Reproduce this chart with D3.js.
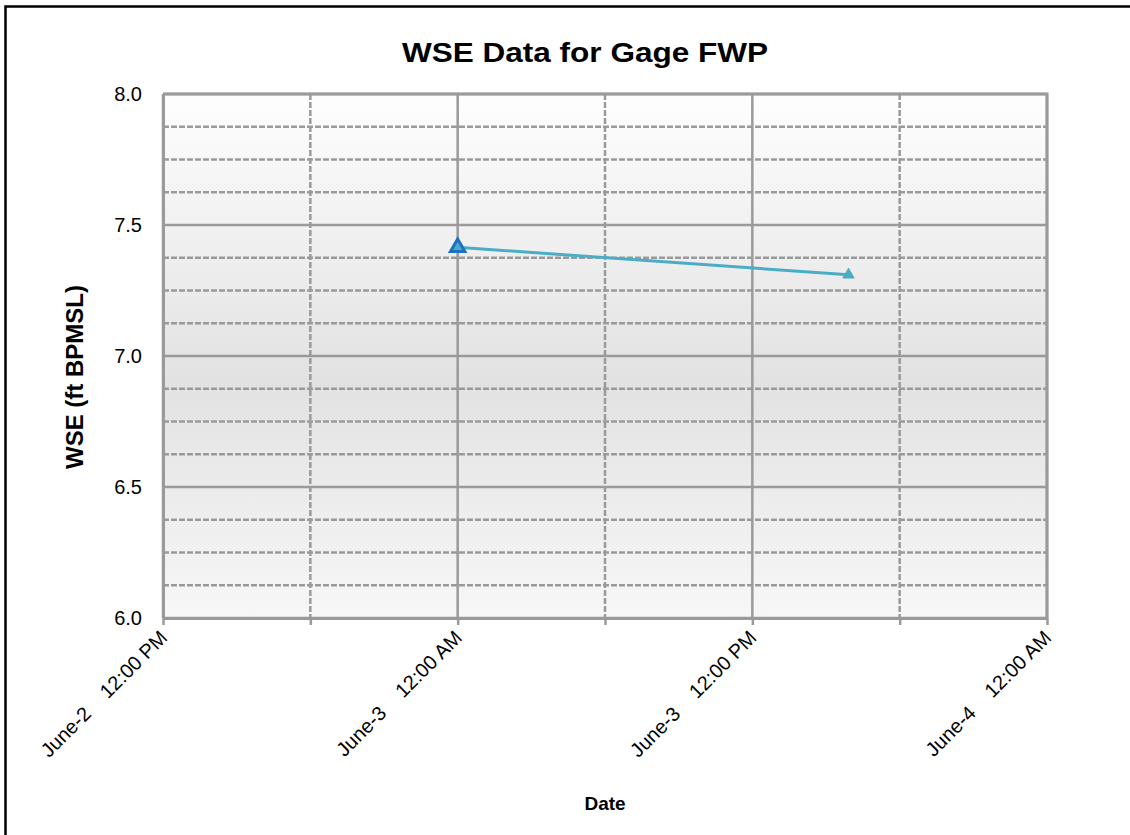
<!DOCTYPE html>
<html>
<head>
<meta charset="utf-8">
<script src="https://cdn.jsdelivr.net/npm/d3@7"></script>
<style>
  body { margin: 0; background: #fff; }
  text { font-family: "Liberation Sans", Arial, sans-serif; }
</style>
</head>
<body>
<script>
// data
const times = ["2010-06-03T00:00", "2010-06-03T15:55"];
const wse = [7.415, 7.31];
const yTicks = [6.0, 6.5, 7.0, 7.5, 8.0];
const xDomain = ["2010-06-02T12:00", "2010-06-04T00:00"];

const parse = d3.timeParse("%Y-%m-%dT%H:%M");
const data = times.map((t, i) => ({ t: parse(t), v: wse[i] }));

const W = 1130, H = 835;
const m = { left: 163, top: 94, right: 1047, bottom: 618 };

const svg = d3.select("body").append("svg").attr("width", W).attr("height", H);

// outer border
svg.append("rect").attr("x", 5.5).attr("y", 6.5).attr("width", W).attr("height", H)
  .attr("fill", "#fff").attr("stroke", "#000").attr("stroke-width", 2.5);

const grad = svg.append("defs").append("linearGradient").attr("id", "bg")
  .attr("x1", 0).attr("y1", 0).attr("x2", 0).attr("y2", 1);
grad.append("stop").attr("offset", "0%").attr("stop-color", "#fefefe");
grad.append("stop").attr("offset", "55%").attr("stop-color", "#e2e2e2");
grad.append("stop").attr("offset", "100%").attr("stop-color", "#f7f7f7");

const x = d3.scaleTime().domain(xDomain.map(parse)).range([m.left, m.right]);
const y = d3.scaleLinear().domain([6, 8]).range([m.bottom, m.top]);

svg.append("rect").attr("x", m.left).attr("y", m.top)
  .attr("width", m.right - m.left).attr("height", m.bottom - m.top)
  .attr("fill", "url(#bg)");

// horizontal grid
const minorY = d3.range(6, 8.0001, 0.125);
svg.append("g").selectAll("line").data(minorY).enter().append("line")
  .attr("x1", m.left).attr("x2", m.right)
  .attr("y1", d => y(d)).attr("y2", d => y(d))
  .attr("stroke", "#9a9a9a").attr("stroke-width", 2.5)
  .attr("stroke-dasharray", d => Math.abs(d * 2 - Math.round(d * 2)) < 1e-6 ? null : "6,2");

// vertical grid, every 6 hours
const xTickVals = d3.timeHour.every(6).range(x.domain()[0], d3.timeMinute.offset(x.domain()[1], 1));
svg.append("g").selectAll("line").data(xTickVals).enter().append("line")
  .attr("x1", d => x(d)).attr("x2", d => x(d))
  .attr("y1", m.top).attr("y2", m.bottom)
  .attr("stroke", "#9a9a9a").attr("stroke-width", 2.5)
  .attr("stroke-dasharray", d => d.getHours() % 12 === 0 ? null : "6,2");

// axes
const fmt = d => d.getHours() % 12 !== 0 ? "" :
  "June-" + d.getDate() + "    12:00 " + (d.getHours() === 0 ? "AM" : "PM");
const xAxis = svg.append("g").attr("transform", `translate(0,${m.bottom})`)
  .call(d3.axisBottom(x).tickValues(xTickVals).tickFormat(fmt).tickSize(7).tickSizeOuter(0));
xAxis.select(".domain").attr("stroke", "#9a9a9a").attr("stroke-width", 3);
xAxis.selectAll(".tick line").attr("stroke", "#9a9a9a").attr("stroke-width", 2.5);
xAxis.selectAll(".tick text")
  .attr("font-size", 20).attr("fill", "#000")
  .style("white-space", "pre")
  .attr("text-anchor", "end")
  .attr("dy", null).attr("y", 0)
  .attr("transform", "translate(5,21) rotate(-45)");

const yAxis = svg.append("g").attr("transform", `translate(${m.left},0)`)
  .call(d3.axisLeft(y).tickValues(yTicks).tickFormat(d3.format(".1f")).tickSize(0).tickPadding(21));
yAxis.select(".domain").attr("stroke", "#9a9a9a").attr("stroke-width", 3);
yAxis.selectAll(".tick text").attr("font-size", 20).attr("fill", "#000");

// top and right plot border
svg.append("path")
  .attr("d", `M${m.left},${m.top}H${m.right}V${m.bottom}`)
  .attr("fill", "none").attr("stroke", "#9a9a9a").attr("stroke-width", 3);

// series
const line = d3.line().x(d => x(d.t)).y(d => y(d.v));
svg.append("path").datum(data).attr("d", line)
  .attr("fill", "none").attr("stroke", "#4bacc6").attr("stroke-width", 3);

const tri = d3.symbol().type(d3.symbolTriangle);
svg.append("g").selectAll("path").data(data).enter().append("path")
  .attr("transform", d => `translate(${x(d.t)},${y(d.v)})`)
  .attr("d", (d, i) => tri.size(i === 0 ? 90 : 55)())
  .attr("fill", "#4bacc6")
  .attr("stroke", (d, i) => i === 0 ? "#1f6fc4" : "#4bacc6")
  .attr("stroke-width", (d, i) => i === 0 ? 3 : 1);

// titles
svg.append("text").attr("x", 585).attr("y", 62).attr("text-anchor", "middle")
  .attr("font-size", 28).attr("font-weight", "bold")
  .attr("textLength", 366).attr("lengthAdjust", "spacingAndGlyphs")
  .text("WSE Data for Gage FWP");
svg.append("text").attr("x", 605).attr("y", 810).attr("text-anchor", "middle")
  .attr("font-size", 19).attr("font-weight", "bold").text("Date");
svg.append("text").attr("transform", "translate(83,377) rotate(-90)").attr("text-anchor", "middle")
  .attr("font-size", 24).attr("font-weight", "bold").text("WSE (ft BPMSL)");
</script>
</body>
</html>
